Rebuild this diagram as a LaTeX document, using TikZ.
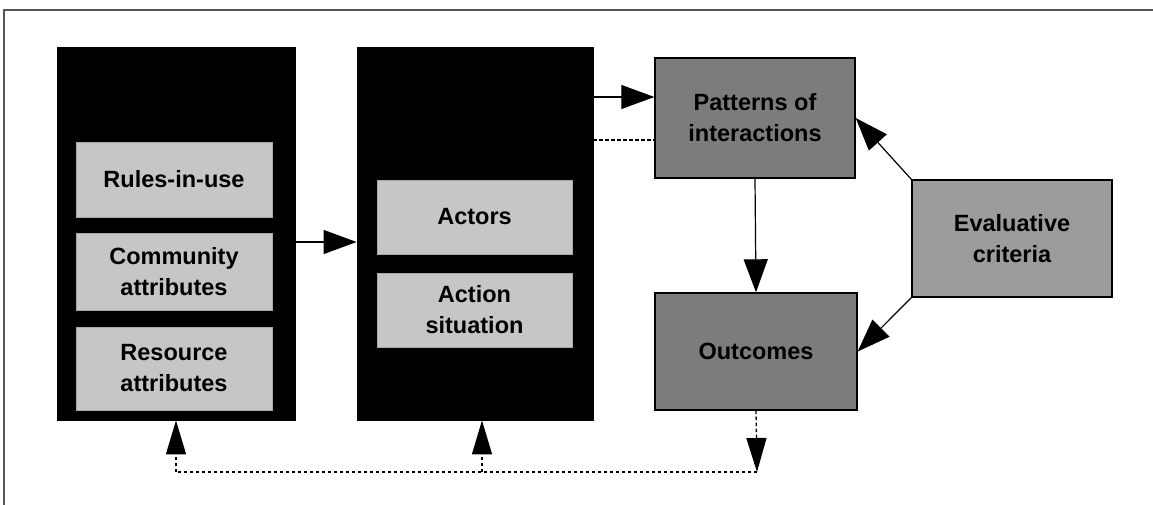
\documentclass[tikz,border=0pt]{standalone}
\usepackage{fontspec}
\setmainfont{Liberation Sans}
\usetikzlibrary{arrows.meta,calc}
\definecolor{innergray}{HTML}{C6C6C6}
\definecolor{darkbox}{HTML}{7C7C7C}
\definecolor{midbox}{HTML}{9C9C9C}
\definecolor{framegray}{HTML}{555555}
\begin{document}
\begin{tikzpicture}[x=1pt,y=-1pt]
\tikzset{
 lbl/.style={font=\fontsize{23.5}{31}\selectfont\bfseries, align=center, text=black},
 outerbox/.style={draw=black, fill=black, line width=0.8pt, inner sep=0pt},
 innerbox/.style={lbl, fill=innergray, draw=innergray!85!black, line width=0.6pt, inner sep=0pt},
 resultbox/.style={lbl, fill=darkbox, draw=black, line width=1.4pt, inner sep=0pt},
 critbox/.style={lbl, fill=midbox, draw=black, line width=1.4pt, inner sep=0pt},
 arr/.style={line width=1.2pt, -{Triangle[length=33pt,width=24pt]}},
 farr/.style={line width=1.3pt, dash pattern=on 3.5pt off 2.5pt, -{Triangle[length=34pt,width=20pt]}},
 fline/.style={line width=1.3pt, dash pattern=on 3.5pt off 2.5pt},
}
\useasboundingbox (0,0) rectangle (1153,505);
% frame
\coordinate (f0) at (4,505);
\coordinate (f1) at (4,10);
\coordinate (f2) at (1153,10);
\draw[framegray, line width=1.2pt] (f0) -- (f1) -- (f2);

% left column
\node[outerbox, minimum width=238pt, minimum height=373pt] (L) at (176,233.5) {};
\node[innerbox, minimum width=196pt, minimum height=75pt] (R) at (174,179.5) {Rules-in-use};
\node[innerbox, minimum width=196pt, minimum height=77pt] (C) at (174,271.5) {Community\\attributes};
\node[innerbox, minimum width=196pt, minimum height=83pt] (Res) at (174,368.5) {Resource\\attributes};

% middle column
\node[outerbox, minimum width=236pt, minimum height=373pt] (M) at (475,233.5) {};
\node[innerbox, minimum width=195pt, minimum height=74pt] (A) at (474.5,217) {Actors};
\node[innerbox, minimum width=195pt, minimum height=74pt] (AS) at (474.5,310) {Action\\situation};

% right
\node[resultbox, minimum width=200pt, minimum height=120pt] (P) at (755,118) {Patterns of\\interactions};
\node[resultbox, minimum width=202pt, minimum height=117pt] (O) at (756,351.5) {Outcomes};
\node[critbox, minimum width=200pt, minimum height=117pt] (E) at (1012,238.5) {Evaluative\\criteria};

% helper coordinates
\coordinate (ya) at (0,97);
\coordinate (yd) at (0,140);
\coordinate (fb) at (757,472);
\coordinate (fl) at (176,472);
\coordinate (fm) at (482,472);

% connectors
\draw[arr] ([yshift=-8.5pt]L.east) -- ([yshift=-8.5pt]M.west);
\draw[arr] (M.east |- ya) -- (P.west |- ya);
\draw[fline] (M.east |- yd) -- (P.west |- yd);
\draw[arr] (P.south) -- (O.north);
\draw[arr] (E.north west) -- (P.east);
\draw[arr] (E.south west) -- (O.east);
\draw[farr] (O.south) -- (fb);
\draw[fline] (fb) -- (fl);
\draw[farr] (fl) -- (L.south);
\draw[farr] (fm) -- (fm |- M.south);
\end{tikzpicture}
\end{document}
